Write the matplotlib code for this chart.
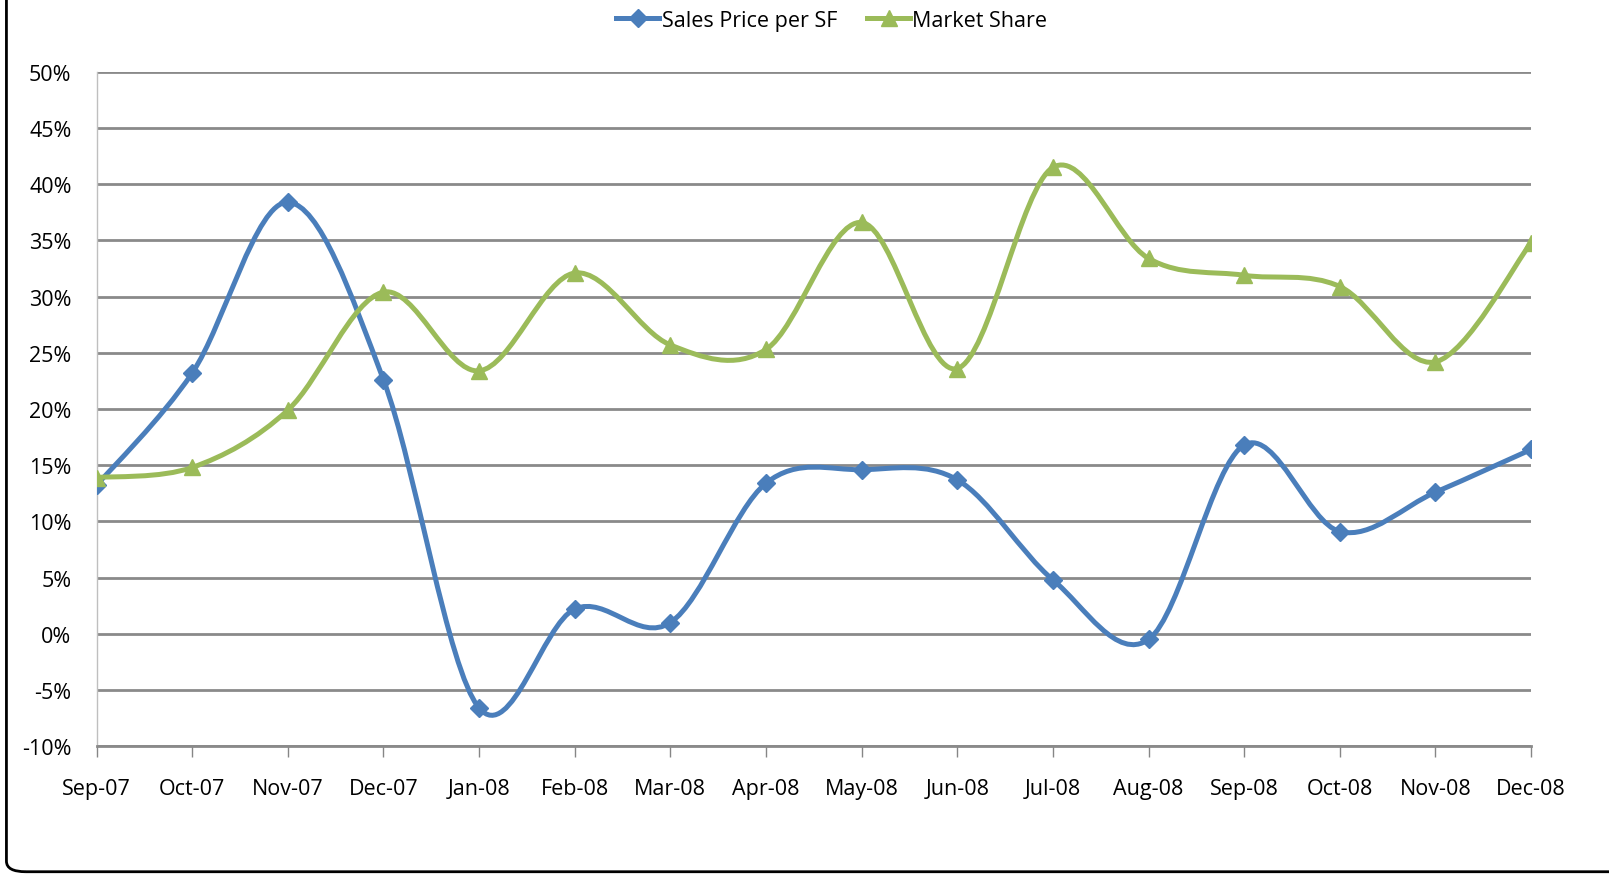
import numpy as np
import matplotlib
matplotlib.use('Agg')
import matplotlib.pyplot as plt
from matplotlib.path import Path
from matplotlib.patches import PathPatch, FancyBboxPatch
from matplotlib.lines import Line2D

plt.rcParams['font.family'] = ['Open Sans', 'DejaVu Sans']

months = ['Sep-07', 'Oct-07', 'Nov-07', 'Dec-07', 'Jan-08', 'Feb-08', 'Mar-08', 'Apr-08',
          'May-08', 'Jun-08', 'Jul-08', 'Aug-08', 'Sep-08', 'Oct-08', 'Nov-08', 'Dec-08']
sales_price = [13.2, 23.2, 38.4, 22.6, -6.6, 2.2, 1.0, 13.4,
               14.6, 13.7, 4.8, -0.5, 16.8, 9.1, 12.6, 16.4]
market_share = [13.9, 14.8, 19.9, 30.4, 23.4, 32.1, 25.7, 25.3,
                36.6, 23.6, 41.5, 33.4, 31.9, 30.9, 24.2, 34.8]

BLUE = '#4A7EBB'
GREEN = '#9BBB59'


def smooth_path(xs, ys):
    # excel style smoothed line: bezier segments with catmull-rom control points
    pts = np.column_stack([xs, ys]).astype(float)
    n = len(pts)
    verts = [pts[0]]
    codes = [Path.MOVETO]
    for i in range(n - 1):
        p0 = pts[i - 1] if i > 0 else pts[i]
        p1 = pts[i]
        p2 = pts[i + 1]
        p3 = pts[i + 2] if i + 2 < n else pts[i + 1]
        verts += [p1 + (p2 - p0) / 6.0, p2 - (p3 - p1) / 6.0, p2]
        codes += [Path.CURVE4] * 3
    return Path(verts, codes)


fig = plt.figure(figsize=(16.09, 8.78), dpi=100)
ax = fig.add_axes([0.060, 0.149, 0.8916, 0.768])

x = np.arange(len(months))
for vals, col, mk, ms in [(sales_price, BLUE, 'D', 9), (market_share, GREEN, '^', 11)]:
    ax.add_patch(PathPatch(smooth_path(x, vals), facecolor='none', edgecolor=col,
                           lw=3.6, capstyle='round', joinstyle='round', zorder=3))
    ax.plot(x, vals, ls='none', marker=mk, ms=ms, color=col, mec=col, zorder=4)

ax.set_xlim(0, len(months) - 1)
ax.set_ylim(-10, 50)
ax.set_yticks(np.arange(-10, 51, 5))
ax.set_yticklabels([f'{v}%' for v in range(-10, 51, 5)], fontsize=15.5)
ax.set_xticks(x)
ax.set_xticklabels(months, fontsize=15.5)
ax.tick_params(axis='y', length=0, pad=18)
ax.tick_params(axis='x', direction='out', length=8, width=1, color='#868686', pad=15)
ax.grid(axis='y', color='#8A8A8A', lw=2)
ax.set_axisbelow(True)
for s in ['top', 'right']:
    ax.spines[s].set_visible(False)
ax.spines['left'].set_color('#BFBFBF')
ax.spines['left'].set_linewidth(1)
ax.spines['bottom'].set_color('#8A8A8A')
ax.spines['bottom'].set_linewidth(2)

handles = [Line2D([], [], color=BLUE, lw=3.6, marker='D', ms=9),
           Line2D([], [], color=GREEN, lw=3.6, marker='^', ms=11)]
fig.legend(handles, ['Sales Price per SF', 'Market Share'], loc='center',
           bbox_to_anchor=(0.517, 0.976), ncol=2, frameon=False, fontsize=15.5,
           handlelength=2.0, handletextpad=0.1, columnspacing=1.4)

frame = FancyBboxPatch((0.004, 0.006), 1.2, 1.2, boxstyle='round,pad=0,rounding_size=0.012',
                       transform=fig.transFigure, facecolor='none', edgecolor='black', lw=2)
fig.patches.append(frame)

fig.savefig('out.png', dpi=100)
